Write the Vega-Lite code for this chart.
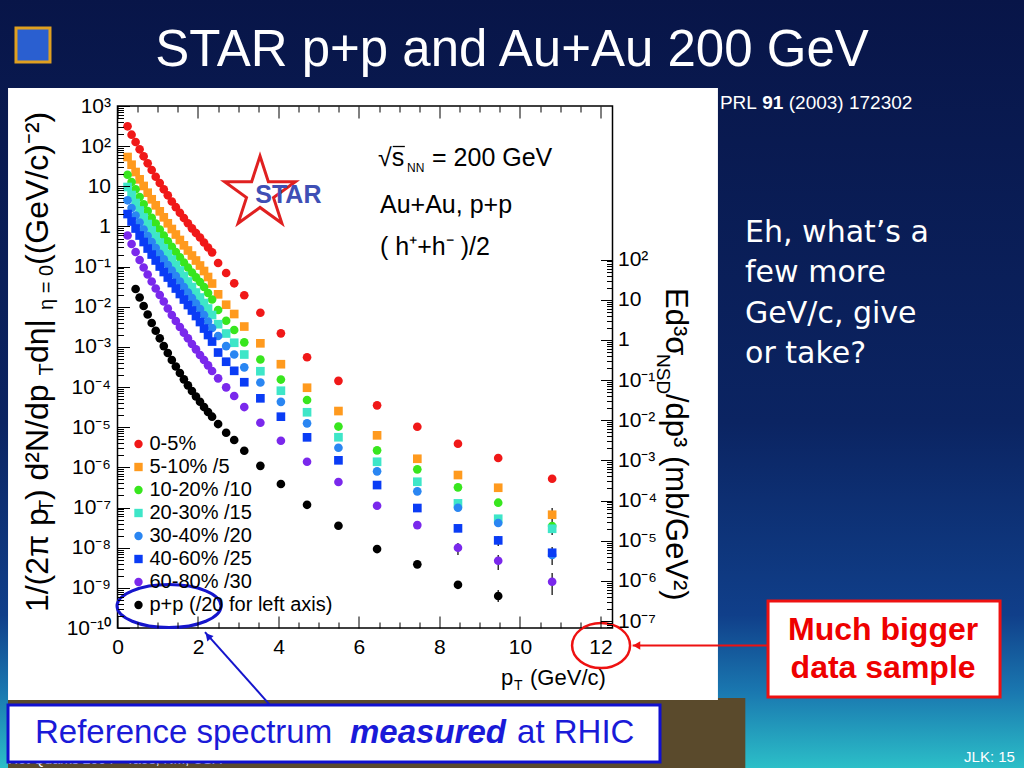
{
"$schema": "https://vega.github.io/schema/vega-lite/v6.json",
"width": 495, "height": 522,
"autosize": {"type": "none"},
"padding": {"left": 117.5, "top": 106, "right": 411.5, "bottom": 140},
"background": "#0a1a52",
"config": {
  "view": {"stroke": null},
  "axis": {"grid": false, "domain": false, "tickColor": "#000000", "tickWidth": 1, "labelColor": "#000000", "labelFont": "Liberation Sans", "labelFontSize": 21, "labelFlush": false, "labelOverlap": false, "labelBound": false},
  "text": {"font": "Liberation Sans"}
},
"data": {"values": [{}]},
"datasets": {
"spectra": [
{"s":"0-5%","pt":0.25,"v":312},{"s":"0-5%","pt":0.35,"v":193},{"s":"0-5%","pt":0.45,"v":127},{"s":"0-5%","pt":0.55,"v":83.5},{"s":"0-5%","pt":0.65,"v":55.9},{"s":"0-5%","pt":0.75,"v":37.4},{"s":"0-5%","pt":0.85,"v":25.5},{"s":"0-5%","pt":0.95,"v":17.3},{"s":"0-5%","pt":1.05,"v":12.1},{"s":"0-5%","pt":1.15,"v":8.42},{"s":"0-5%","pt":1.25,"v":5.97},{"s":"0-5%","pt":1.35,"v":4.18},{"s":"0-5%","pt":1.45,"v":3.02},{"s":"0-5%","pt":1.55,"v":2.2},{"s":"0-5%","pt":1.65,"v":1.62},{"s":"0-5%","pt":1.75,"v":1.2},{"s":"0-5%","pt":1.85,"v":0.899},{"s":"0-5%","pt":1.95,"v":0.687},{"s":"0-5%","pt":2.05,"v":0.531},{"s":"0-5%","pt":2.15,"v":0.398},{"s":"0-5%","pt":2.25,"v":0.299},{"s":"0-5%","pt":2.35,"v":0.227},{"s":"0-5%","pt":2.5,"v":0.123},{"s":"0-5%","pt":2.7,"v":0.0693},{"s":"0-5%","pt":2.9,"v":0.0384},{"s":"0-5%","pt":3.15,"v":0.0194},{"s":"0-5%","pt":3.55,"v":0.00711},{"s":"0-5%","pt":4.06,"v":0.00218},{"s":"0-5%","pt":4.71,"v":0.000554},{"s":"0-5%","pt":5.49,"v":0.000143},{"s":"0-5%","pt":6.45,"v":3.51e-5},{"s":"0-5%","pt":7.45,"v":1.03e-5},{"s":"0-5%","pt":8.46,"v":3.88e-6},{"s":"0-5%","pt":9.46,"v":1.71e-6},{"s":"0-5%","pt":10.8,"v":5.22e-7},
{"s":"5-10% /5","pt":0.25,"v":53.7},{"s":"5-10% /5","pt":0.35,"v":34.5},{"s":"5-10% /5","pt":0.45,"v":22.7},{"s":"5-10% /5","pt":0.55,"v":14.9},{"s":"5-10% /5","pt":0.65,"v":10.2},{"s":"5-10% /5","pt":0.75,"v":6.93},{"s":"5-10% /5","pt":0.85,"v":4.75},{"s":"5-10% /5","pt":0.95,"v":3.36},{"s":"5-10% /5","pt":1.05,"v":2.38},{"s":"5-10% /5","pt":1.15,"v":1.69},{"s":"5-10% /5","pt":1.25,"v":1.2},{"s":"5-10% /5","pt":1.35,"v":0.864},{"s":"5-10% /5","pt":1.45,"v":0.63},{"s":"5-10% /5","pt":1.55,"v":0.46},{"s":"5-10% /5","pt":1.65,"v":0.339},{"s":"5-10% /5","pt":1.75,"v":0.252},{"s":"5-10% /5","pt":1.85,"v":0.189},{"s":"5-10% /5","pt":1.95,"v":0.142},{"s":"5-10% /5","pt":2.05,"v":0.1065},{"s":"5-10% /5","pt":2.15,"v":0.0777},{"s":"5-10% /5","pt":2.25,"v":0.0551},{"s":"5-10% /5","pt":2.35,"v":0.0379},{"s":"5-10% /5","pt":2.5,"v":0.0204},{"s":"5-10% /5","pt":2.7,"v":0.01125},{"s":"5-10% /5","pt":2.9,"v":0.0066},{"s":"5-10% /5","pt":3.15,"v":0.00322},{"s":"5-10% /5","pt":3.55,"v":0.00123},{"s":"5-10% /5","pt":4.06,"v":0.000371},{"s":"5-10% /5","pt":4.71,"v":9.63e-5},{"s":"5-10% /5","pt":5.49,"v":2.53e-5},{"s":"5-10% /5","pt":6.45,"v":6.28e-6},{"s":"5-10% /5","pt":7.45,"v":1.64e-6},{"s":"5-10% /5","pt":8.46,"v":6.45e-7},{"s":"5-10% /5","pt":9.46,"v":3.11e-7},{"s":"5-10% /5","pt":10.8,"v":6.62e-8},
{"s":"10-20% /10","pt":0.25,"v":19.45},{"s":"10-20% /10","pt":0.35,"v":12.8},{"s":"10-20% /10","pt":0.45,"v":8.42},{"s":"10-20% /10","pt":0.55,"v":5.41},{"s":"10-20% /10","pt":0.65,"v":3.56},{"s":"10-20% /10","pt":0.75,"v":2.43},{"s":"10-20% /10","pt":0.85,"v":1.65},{"s":"10-20% /10","pt":0.95,"v":1.18},{"s":"10-20% /10","pt":1.05,"v":0.839},{"s":"10-20% /10","pt":1.15,"v":0.595},{"s":"10-20% /10","pt":1.25,"v":0.427},{"s":"10-20% /10","pt":1.35,"v":0.313},{"s":"10-20% /10","pt":1.45,"v":0.231},{"s":"10-20% /10","pt":1.55,"v":0.1704},{"s":"10-20% /10","pt":1.65,"v":0.1265},{"s":"10-20% /10","pt":1.75,"v":0.095},{"s":"10-20% /10","pt":1.85,"v":0.0713},{"s":"10-20% /10","pt":1.95,"v":0.0541},{"s":"10-20% /10","pt":2.05,"v":0.0413},{"s":"10-20% /10","pt":2.15,"v":0.031},{"s":"10-20% /10","pt":2.25,"v":0.022},{"s":"10-20% /10","pt":2.35,"v":0.01516},{"s":"10-20% /10","pt":2.5,"v":0.0083},{"s":"10-20% /10","pt":2.7,"v":0.00449},{"s":"10-20% /10","pt":2.9,"v":0.00264},{"s":"10-20% /10","pt":3.15,"v":0.0013},{"s":"10-20% /10","pt":3.55,"v":0.000486},{"s":"10-20% /10","pt":4.06,"v":0.000154},{"s":"10-20% /10","pt":4.71,"v":4.76e-5},{"s":"10-20% /10","pt":5.49,"v":1.04e-5},{"s":"10-20% /10","pt":6.45,"v":2.66e-6},{"s":"10-20% /10","pt":7.45,"v":8.94e-7},{"s":"10-20% /10","pt":8.46,"v":3.18e-7},{"s":"10-20% /10","pt":9.46,"v":1.32e-7},{"s":"10-20% /10","pt":10.8,"v":3.46e-8},
{"s":"20-30% /15","pt":0.25,"v":9.61},{"s":"20-30% /15","pt":0.35,"v":6.07},{"s":"20-30% /15","pt":0.45,"v":3.84},{"s":"20-30% /15","pt":0.55,"v":2.5},{"s":"20-30% /15","pt":0.65,"v":1.67},{"s":"20-30% /15","pt":0.75,"v":1.15},{"s":"20-30% /15","pt":0.85,"v":0.793},{"s":"20-30% /15","pt":0.95,"v":0.562},{"s":"20-30% /15","pt":1.05,"v":0.398},{"s":"20-30% /15","pt":1.15,"v":0.286},{"s":"20-30% /15","pt":1.25,"v":0.206},{"s":"20-30% /15","pt":1.35,"v":0.15},{"s":"20-30% /15","pt":1.45,"v":0.1096},{"s":"20-30% /15","pt":1.55,"v":0.08},{"s":"20-30% /15","pt":1.65,"v":0.0583},{"s":"20-30% /15","pt":1.75,"v":0.0425},{"s":"20-30% /15","pt":1.85,"v":0.031},{"s":"20-30% /15","pt":1.95,"v":0.02264},{"s":"20-30% /15","pt":2.05,"v":0.017},{"s":"20-30% /15","pt":2.15,"v":0.0124},{"s":"20-30% /15","pt":2.25,"v":0.00904},{"s":"20-30% /15","pt":2.35,"v":0.00623},{"s":"20-30% /15","pt":2.5,"v":0.00368},{"s":"20-30% /15","pt":2.7,"v":0.00216},{"s":"20-30% /15","pt":2.9,"v":0.00127},{"s":"20-30% /15","pt":3.15,"v":0.000647},{"s":"20-30% /15","pt":3.55,"v":0.000248},{"s":"20-30% /15","pt":4.06,"v":8.11e-5},{"s":"20-30% /15","pt":4.71,"v":2.36e-5},{"s":"20-30% /15","pt":5.49,"v":5.63e-6},{"s":"20-30% /15","pt":6.45,"v":1.38e-6},{"s":"20-30% /15","pt":7.45,"v":4.39e-7},{"s":"20-30% /15","pt":8.46,"v":1.27e-7},{"s":"20-30% /15","pt":9.46,"v":5.26e-8},{"s":"20-30% /15","pt":10.8,"v":2.96e-8},
{"s":"30-40% /20","pt":0.25,"v":4.48},{"s":"30-40% /20","pt":0.35,"v":2.88},{"s":"30-40% /20","pt":0.45,"v":1.87},{"s":"30-40% /20","pt":0.55,"v":1.25},{"s":"30-40% /20","pt":0.65,"v":0.839},{"s":"30-40% /20","pt":0.75,"v":0.578},{"s":"30-40% /20","pt":0.85,"v":0.41},{"s":"30-40% /20","pt":0.95,"v":0.291},{"s":"30-40% /20","pt":1.05,"v":0.2096},{"s":"30-40% /20","pt":1.15,"v":0.152},{"s":"30-40% /20","pt":1.25,"v":0.1096},{"s":"30-40% /20","pt":1.35,"v":0.08},{"s":"30-40% /20","pt":1.45,"v":0.0583},{"s":"30-40% /20","pt":1.55,"v":0.0425},{"s":"30-40% /20","pt":1.65,"v":0.031},{"s":"30-40% /20","pt":1.75,"v":0.02264},{"s":"30-40% /20","pt":1.85,"v":0.0165},{"s":"30-40% /20","pt":1.95,"v":0.01205},{"s":"30-40% /20","pt":2.05,"v":0.00879},{"s":"30-40% /20","pt":2.15,"v":0.00623},{"s":"30-40% /20","pt":2.25,"v":0.00429},{"s":"30-40% /20","pt":2.35,"v":0.00296},{"s":"30-40% /20","pt":2.5,"v":0.00187},{"s":"30-40% /20","pt":2.7,"v":0.00105},{"s":"30-40% /20","pt":2.9,"v":0.000647},{"s":"30-40% /20","pt":3.15,"v":0.00031},{"s":"30-40% /20","pt":3.55,"v":0.00013},{"s":"30-40% /20","pt":4.06,"v":4.29e-5},{"s":"30-40% /20","pt":4.71,"v":1.25e-5},{"s":"30-40% /20","pt":5.49,"v":3.09e-6},{"s":"30-40% /20","pt":6.45,"v":7.97e-7},{"s":"30-40% /20","pt":7.45,"v":2.53e-7},{"s":"30-40% /20","pt":8.46,"v":9.89e-8},{"s":"30-40% /20","pt":9.46,"v":4.11e-8},{"s":"30-40% /20","pt":10.8,"v":6.56e-9},
{"s":"40-60% /25","pt":0.25,"v":2.04},{"s":"40-60% /25","pt":0.35,"v":1.33},{"s":"40-60% /25","pt":0.45,"v":0.889},{"s":"40-60% /25","pt":0.55,"v":0.595},{"s":"40-60% /25","pt":0.65,"v":0.41},{"s":"40-60% /25","pt":0.75,"v":0.282},{"s":"40-60% /25","pt":0.85,"v":0.2},{"s":"40-60% /25","pt":0.95,"v":0.142},{"s":"40-60% /25","pt":1.05,"v":0.1006},{"s":"40-60% /25","pt":1.15,"v":0.0734},{"s":"40-60% /25","pt":1.25,"v":0.0535},{"s":"40-60% /25","pt":1.35,"v":0.039},{"s":"40-60% /25","pt":1.45,"v":0.0285},{"s":"40-60% /25","pt":1.55,"v":0.0208},{"s":"40-60% /25","pt":1.65,"v":0.01516},{"s":"40-60% /25","pt":1.75,"v":0.01105},{"s":"40-60% /25","pt":1.85,"v":0.00807},{"s":"40-60% /25","pt":1.95,"v":0.00588},{"s":"40-60% /25","pt":2.05,"v":0.00417},{"s":"40-60% /25","pt":2.15,"v":0.00287},{"s":"40-60% /25","pt":2.25,"v":0.00198},{"s":"40-60% /25","pt":2.35,"v":0.00136},{"s":"40-60% /25","pt":2.5,"v":0.000725},{"s":"40-60% /25","pt":2.7,"v":0.000428},{"s":"40-60% /25","pt":2.9,"v":0.000254},{"s":"40-60% /25","pt":3.15,"v":0.000132},{"s":"40-60% /25","pt":3.55,"v":5.25e-5},{"s":"40-60% /25","pt":4.06,"v":1.83e-5},{"s":"40-60% /25","pt":4.71,"v":5.6e-6},{"s":"40-60% /25","pt":5.49,"v":1.5e-6},{"s":"40-60% /25","pt":6.45,"v":3.63e-7},{"s":"40-60% /25","pt":7.45,"v":9.72e-8},{"s":"40-60% /25","pt":8.46,"v":3.03e-8},{"s":"40-60% /25","pt":9.46,"v":1.52e-8},{"s":"40-60% /25","pt":10.8,"v":7.48e-9},
{"s":"60-80% /30","pt":0.25,"v":0.595},{"s":"60-80% /30","pt":0.35,"v":0.366},{"s":"60-80% /30","pt":0.45,"v":0.231},{"s":"60-80% /30","pt":0.55,"v":0.146},{"s":"60-80% /30","pt":0.65,"v":0.095},{"s":"60-80% /30","pt":0.75,"v":0.0636},{"s":"60-80% /30","pt":0.85,"v":0.0425},{"s":"60-80% /30","pt":0.95,"v":0.0285},{"s":"60-80% /30","pt":1.05,"v":0.0196},{"s":"60-80% /30","pt":1.15,"v":0.0135},{"s":"60-80% /30","pt":1.25,"v":0.00904},{"s":"60-80% /30","pt":1.35,"v":0.00623},{"s":"60-80% /30","pt":1.45,"v":0.00442},{"s":"60-80% /30","pt":1.55,"v":0.00313},{"s":"60-80% /30","pt":1.65,"v":0.00226},{"s":"60-80% /30","pt":1.75,"v":0.00164},{"s":"60-80% /30","pt":1.85,"v":0.00118},{"s":"60-80% /30","pt":1.95,"v":0.000871},{"s":"60-80% /30","pt":2.05,"v":0.000628},{"s":"60-80% /30","pt":2.15,"v":0.000472},{"s":"60-80% /30","pt":2.25,"v":0.000348},{"s":"60-80% /30","pt":2.35,"v":0.000251},{"s":"60-80% /30","pt":2.5,"v":0.000165},{"s":"60-80% /30","pt":2.7,"v":9.86e-5},{"s":"60-80% /30","pt":2.9,"v":5.98e-5},{"s":"60-80% /30","pt":3.15,"v":3.18e-5},{"s":"60-80% /30","pt":3.55,"v":1.29e-5},{"s":"60-80% /30","pt":4.06,"v":4.61e-6},{"s":"60-80% /30","pt":4.71,"v":1.38e-6},{"s":"60-80% /30","pt":5.49,"v":4.32e-7},{"s":"60-80% /30","pt":6.45,"v":1.11e-7},{"s":"60-80% /30","pt":7.45,"v":3.66e-8},{"s":"60-80% /30","pt":8.46,"v":9.97e-9},{"s":"60-80% /30","pt":9.46,"v":4.73e-9},{"s":"60-80% /30","pt":10.8,"v":1.42e-9},
{"s":"p+p (/20 for left axis)","pt":0.45,"v":0.0277},{"s":"p+p (/20 for left axis)","pt":0.55,"v":0.017},{"s":"p+p (/20 for left axis)","pt":0.65,"v":0.01044},{"s":"p+p (/20 for left axis)","pt":0.75,"v":0.00641},{"s":"p+p (/20 for left axis)","pt":0.85,"v":0.00394},{"s":"p+p (/20 for left axis)","pt":0.95,"v":0.00253},{"s":"p+p (/20 for left axis)","pt":1.05,"v":0.00164},{"s":"p+p (/20 for left axis)","pt":1.15,"v":0.00105},{"s":"p+p (/20 for left axis)","pt":1.25,"v":0.000705},{"s":"p+p (/20 for left axis)","pt":1.35,"v":0.000472},{"s":"p+p (/20 for left axis)","pt":1.45,"v":0.000325},{"s":"p+p (/20 for left axis)","pt":1.55,"v":0.000224},{"s":"p+p (/20 for left axis)","pt":1.65,"v":0.000156},{"s":"p+p (/20 for left axis)","pt":1.75,"v":0.0001105},{"s":"p+p (/20 for left axis)","pt":1.85,"v":7.97e-5},{"s":"p+p (/20 for left axis)","pt":1.95,"v":5.82e-5},{"s":"p+p (/20 for left axis)","pt":2.05,"v":4.32e-5},{"s":"p+p (/20 for left axis)","pt":2.15,"v":3.18e-5},{"s":"p+p (/20 for left axis)","pt":2.25,"v":2.39e-5},{"s":"p+p (/20 for left axis)","pt":2.35,"v":1.83e-5},{"s":"p+p (/20 for left axis)","pt":2.5,"v":1.2e-5},{"s":"p+p (/20 for left axis)","pt":2.7,"v":7.29e-6},{"s":"p+p (/20 for left axis)","pt":2.9,"v":4.8e-6},{"s":"p+p (/20 for left axis)","pt":3.15,"v":2.6e-6},{"s":"p+p (/20 for left axis)","pt":3.55,"v":1.093e-6},{"s":"p+p (/20 for left axis)","pt":4.06,"v":3.85e-7},{"s":"p+p (/20 for left axis)","pt":4.71,"v":1.17e-7},{"s":"p+p (/20 for left axis)","pt":5.49,"v":3.52e-8},{"s":"p+p (/20 for left axis)","pt":6.45,"v":9.25e-9},{"s":"p+p (/20 for left axis)","pt":7.45,"v":3.85e-9},{"s":"p+p (/20 for left axis)","pt":8.46,"v":1.19e-9},{"s":"p+p (/20 for left axis)","pt":9.46,"v":6.25e-10}
],
"errs": [
{"s":"60-80% /30","pt":8.46,"lo":6.6e-9,"hi":1.31e-8},
{"s":"60-80% /30","pt":9.46,"lo":2.77e-9,"hi":6.56e-9},
{"s":"60-80% /30","pt":10.8,"lo":6.62e-10,"hi":2.34e-9},
{"s":"30-40% /20","pt":10.8,"lo":3.7e-9,"hi":1.04e-8},
{"s":"5-10% /5","pt":10.8,"lo":4.36e-8,"hi":9.72e-8},
{"s":"20-30% /15","pt":10.8,"lo":2.07e-8,"hi":4.36e-8},
{"s":"p+p (/20 for left axis)","pt":9.46,"lo":4.43e-10,"hi":8.81e-10},
{"s":"40-60% /25","pt":9.46,"lo":1.1e-8,"hi":1.95e-8}
]
},
"layer": [
{
"layer": [
{"mark": {"type": "rect", "fill": {"gradient": "linear", "x1": 0, "y1": 0, "x2": 0, "y2": 1, "stops": [{"offset": 0, "color": "#081548"}, {"offset": 0.55, "color": "#0b2462"}, {"offset": 0.8, "color": "#103f8a"}, {"offset": 0.9, "color": "#1a78b0"}, {"offset": 1, "color": "#2cc0c8"}]}},
 "encoding": {"x": {"datum": -3.2, "type": "quantitative", "axis": null}, "x2": {"datum": 22.8}, "y": {"datum": 500000, "type": "quantitative", "axis": null}, "y2": {"datum": 3e-14}}},
{"mark": {"type": "rect", "fill": "#5a4a2c"},
 "encoding": {"x": {"datum": -2.72, "type": "quantitative", "axis": null}, "x2": {"datum": 15.6}, "y": {"datum": 1.81e-12, "type": "quantitative", "axis": null}, "y2": {"datum": 3e-14}}},
{"mark": {"type": "point", "shape": "square", "size": 1156, "filled": true, "fill": "#2a5fd0", "stroke": "#e0a020", "strokeWidth": 3, "opacity": 1},
 "encoding": {"x": {"datum": -2.1, "type": "quantitative", "axis": null}, "y": {"datum": 33000, "type": "quantitative", "axis": null}}},
{"mark": {"type": "text", "text": "Hot Quarks 2004 - Taos, NM, USA", "fontSize": 14, "color": "#ffffff", "align": "left", "baseline": "middle"},
 "encoding": {"x": {"datum": -2.72, "axis": null}, "y": {"datum": 5.14e-14, "axis": null}}},
{"mark": {"type": "rect", "fill": "#ffffff"},
 "encoding": {"x": {"datum": -2.72, "type": "quantitative", "axis": null}, "x2": {"datum": 14.92}, "y": {"datum": 2807, "type": "quantitative", "axis": null}, "y2": {"datum": 1.6e-12}}},
{"mark": {"type": "rect", "fill": "#ffffff", "fillOpacity": 0, "stroke": "#000000", "strokeWidth": 1.5},
 "encoding": {"x": {"datum": 0, "type": "quantitative", "axis": null}, "x2": {"datum": 12.3}, "y": {"datum": 1e-10, "type": "quantitative", "axis": null}, "y2": {"datum": 1000}}},
{"data": {"name": "errs"}, "mark": {"type": "rule", "color": "#000000", "strokeWidth": 1.2},
 "encoding": {"x": {"field": "pt", "type": "quantitative", "axis": null}, "y": {"field": "lo", "type": "quantitative", "axis": null}, "y2": {"field": "hi"}}},
{"data": {"name": "spectra"}, "mark": {"type": "point", "filled": true, "size": 75, "opacity": 1},
 "encoding": {
  "x": {"field": "pt", "type": "quantitative", "scale": {"domain": [0, 12.3], "nice": false, "zero": false}, "axis": {"orient": "bottom", "zindex": 2, "values": [0, 2, 4, 6, 8, 10, 12], "tickSize": -12, "labelPadding": 20, "title": null}},
  "y": {"field": "v", "type": "quantitative", "scale": {"type": "log", "domain": [1e-10, 1000], "nice": false}, "axis": {"orient": "left", "zindex": 2, "values": [1e-10, 1e-9, 1e-8, 1e-7, 1e-6, 1e-5, 1e-4, 1e-3, 0.01, 0.1, 1, 10, 100, 1000], "tickSize": -12, "labelPadding": 19, "title": null,
     "labelExpr": "round(log(datum.value)/LN10) == 0 ? '1' : round(log(datum.value)/LN10) == 1 ? '10' : '10' + replace(replace(replace(replace(replace(replace(replace(replace(replace(replace(replace(toString(round(log(datum.value)/LN10)),'-','⁻'),'0','⁰'),'1','¹'),'2','²'),'3','³'),'4','⁴'),'5','⁵'),'6','⁶'),'7','⁷'),'8','⁸'),'9','⁹')"}},
  "color": {"field": "s", "type": "nominal", "scale": {"domain": ["0-5%", "5-10% /5", "10-20% /10", "20-30% /15", "30-40% /20", "40-60% /25", "60-80% /30", "p+p (/20 for left axis)"], "range": ["#f01818", "#ff9a1e", "#38e61e", "#3ee6c8", "#2a86f2", "#0a3cf5", "#7a28ec", "#000000"]},
    "legend": {"orient": "none", "legendX": 11, "legendY": 328, "title": null, "padding": 0, "labelFont": "Liberation Sans", "labelFontSize": 20, "labelColor": "#000000", "labelOffset": 1, "rowPadding": 3, "symbolSize": 70, "symbolStrokeWidth": 0, "labelLimit": 400}},
  "shape": {"field": "s", "type": "nominal", "scale": {"domain": ["0-5%", "5-10% /5", "10-20% /10", "20-30% /15", "30-40% /20", "40-60% /25", "60-80% /30", "p+p (/20 for left axis)"], "range": ["circle", "square", "circle", "square", "circle", "square", "circle", "circle"]},
    "legend": {"orient": "none", "legendX": 11, "legendY": 328, "title": null, "padding": 0, "labelFont": "Liberation Sans", "labelFontSize": 20, "labelColor": "#000000", "labelOffset": 1, "rowPadding": 3, "symbolSize": 70, "symbolStrokeWidth": 0, "labelLimit": 400}}
 }},
{"mark": {"type": "point", "opacity": 0},
 "encoding": {"x": {"datum": 1, "type": "quantitative", "axis": {"orient": "bottom", "zindex": 2, "values": [0.5, 1, 1.5, 2.5, 3, 3.5, 4.5, 5, 5.5, 6.5, 7, 7.5, 8.5, 9, 9.5, 10.5, 11, 11.5], "tickSize": -6, "labels": false, "title": null}}}},
{"mark": {"type": "point", "opacity": 0},
 "encoding": {"x": {"datum": 1, "type": "quantitative", "axis": {"orient": "top", "zindex": 2, "values": [0, 2, 4, 6, 8, 10, 12], "tickSize": -12, "labels": false, "title": null}}}},
{"mark": {"type": "point", "opacity": 0},
 "encoding": {"x": {"datum": 1, "type": "quantitative", "axis": {"orient": "top", "zindex": 2, "values": [0.5, 1, 1.5, 2.5, 3, 3.5, 4.5, 5, 5.5, 6.5, 7, 7.5, 8.5, 9, 9.5, 10.5, 11, 11.5], "tickSize": -6, "labels": false, "title": null}}}},
{"mark": {"type": "point", "opacity": 0},
 "encoding": {"y": {"datum": 1, "type": "quantitative", "axis": {"orient": "left", "zindex": 2, "values": [2e-10,3e-10,4e-10,5e-10,6e-10,7e-10,8e-10,9e-10,2e-9,3e-9,4e-9,5e-9,6e-9,7e-9,8e-9,9e-9,2e-8,3e-8,4e-8,5e-8,6e-8,7e-8,8e-8,9e-8,2e-7,3e-7,4e-7,5e-7,6e-7,7e-7,8e-7,9e-7,2e-6,3e-6,4e-6,5e-6,6e-6,7e-6,8e-6,9e-6,2e-5,3e-5,4e-5,5e-5,6e-5,7e-5,8e-5,9e-5,2e-4,3e-4,4e-4,5e-4,6e-4,7e-4,8e-4,9e-4,0.002,0.003,0.004,0.005,0.006,0.007,0.008,0.009,0.02,0.03,0.04,0.05,0.06,0.07,0.08,0.09,0.2,0.3,0.4,0.5,0.6,0.7,0.8,0.9,2,3,4,5,6,7,8,9,20,30,40,50,60,70,80,90,200,300,400,500,600,700,800,900], "tickSize": -6, "labels": false, "title": null}}}},
{"mark": {"type": "text", "text": "√s", "fontSize": 25, "color": "#000000", "align": "left", "baseline": "middle"},
 "encoding": {"x": {"datum": 6.474, "axis": null}, "y": {"datum": 50.7, "axis": null}}},
{"mark": {"type": "rule", "color": "#000000", "strokeWidth": 1.3},
 "encoding": {"x": {"datum": 6.84, "axis": null}, "x2": {"datum": 7.14}, "y": {"datum": 98, "axis": null}}},
{"mark": {"type": "text", "text": "NN", "fontSize": 12, "color": "#000000", "align": "left", "baseline": "middle"},
 "encoding": {"x": {"datum": 7.194, "axis": null}, "y": {"datum": 28.6, "axis": null}}},
{"mark": {"type": "text", "text": "= 200 GeV", "fontSize": 25, "color": "#000000", "align": "left", "baseline": "middle"},
 "encoding": {"x": {"datum": 7.816, "axis": null}, "y": {"datum": 50.7, "axis": null}}},
{"mark": {"type": "text", "text": "Au+Au, p+p", "fontSize": 25, "color": "#000000", "align": "left", "baseline": "middle"},
 "encoding": {"x": {"datum": 6.523, "axis": null}, "y": {"datum": 3.42, "axis": null}}},
{"mark": {"type": "text", "text": "( h⁺+h⁻ )/2", "fontSize": 25, "color": "#000000", "align": "left", "baseline": "middle"},
 "encoding": {"x": {"datum": 6.523, "axis": null}, "y": {"datum": 0.308, "axis": null}}},
{"mark": {"type": "point", "shape": "M0,-1L0.2245,-0.309L0.951,-0.309L0.363,0.118L0.588,0.809L0,0.382L-0.588,0.809L-0.363,0.118L-0.951,-0.309L-0.2245,-0.309Z", "size": 5535, "filled": false, "stroke": "#e02020", "strokeWidth": 3, "opacity": 1},
 "encoding": {"x": {"datum": 3.541, "axis": null}, "y": {"datum": 6.73, "axis": null}}},
{"mark": {"type": "text", "text": "STAR", "fontSize": 25, "fontWeight": "bold", "color": "#3f4fb5", "align": "center", "baseline": "middle"},
 "encoding": {"x": {"datum": 4.245, "axis": null}, "y": {"datum": 6.08, "axis": null}}},
{"mark": {"type": "text", "text": "p", "fontSize": 22, "color": "#000000", "align": "left", "baseline": "middle"},
 "encoding": {"x": {"datum": 9.53, "axis": null}, "y": {"datum": 5.66e-12, "axis": null}}},
{"mark": {"type": "text", "text": "T", "fontSize": 14, "color": "#000000", "align": "left", "baseline": "middle"},
 "encoding": {"x": {"datum": 9.853, "axis": null}, "y": {"datum": 3.58e-12, "axis": null}}},
{"mark": {"type": "text", "text": "(GeV/c)", "fontSize": 22, "color": "#000000", "align": "left", "baseline": "middle"},
 "encoding": {"x": {"datum": 10.251, "axis": null}, "y": {"datum": 5.66e-12, "axis": null}}},
{"mark": {"type": "text", "text": "1/(2π p", "fontSize": 32, "angle": 270, "color": "#000000", "align": "left", "baseline": "middle"},
 "encoding": {"x": {"datum": -1.976, "axis": null}, "y": {"datum": 2.49e-10, "axis": null}}},
{"mark": {"type": "text", "text": "T", "fontSize": 20, "angle": 270, "color": "#000000", "align": "left", "baseline": "middle"},
 "encoding": {"x": {"datum": -1.752, "axis": null}, "y": {"datum": 7.73e-8, "axis": null}}},
{"mark": {"type": "text", "text": ")  d²N/dp", "fontSize": 32, "angle": 270, "color": "#000000", "align": "left", "baseline": "middle"},
 "encoding": {"x": {"datum": -1.976, "axis": null}, "y": {"datum": 1.54e-7, "axis": null}}},
{"mark": {"type": "text", "text": "T", "fontSize": 20, "angle": 270, "color": "#000000", "align": "left", "baseline": "middle"},
 "encoding": {"x": {"datum": -1.752, "axis": null}, "y": {"datum": 1.94e-4, "axis": null}}},
{"mark": {"type": "text", "text": " dη|", "fontSize": 32, "angle": 270, "color": "#000000", "align": "left", "baseline": "middle"},
 "encoding": {"x": {"datum": -1.976, "axis": null}, "y": {"datum": 3.97e-4, "axis": null}}},
{"mark": {"type": "text", "text": "η = 0", "fontSize": 20, "angle": 270, "color": "#000000", "align": "left", "baseline": "middle"},
 "encoding": {"x": {"datum": -1.752, "axis": null}, "y": {"datum": 0.0083, "axis": null}}},
{"mark": {"type": "text", "text": " ((GeV/c)⁻²)", "fontSize": 32, "angle": 270, "color": "#000000", "align": "left", "baseline": "middle"},
 "encoding": {"x": {"datum": -1.976, "axis": null}, "y": {"datum": 0.11, "axis": null}}},
{"mark": {"type": "text", "text": "Ed³σ", "fontSize": 31, "angle": 90, "color": "#000000", "align": "left", "baseline": "middle"},
 "encoding": {"x": {"datum": 13.854, "axis": null}, "y": {"datum": 0.0293, "axis": null}}},
{"mark": {"type": "text", "text": "NSD", "fontSize": 19, "angle": 90, "color": "#000000", "align": "left", "baseline": "middle"},
 "encoding": {"x": {"datum": 13.56, "axis": null}, "y": {"datum": 6.67e-4, "axis": null}}},
{"mark": {"type": "text", "text": "/dp³ (mb/GeV²)", "fontSize": 31, "angle": 90, "color": "#000000", "align": "left", "baseline": "middle"},
 "encoding": {"x": {"datum": 13.854, "axis": null}, "y": {"datum": 6.73e-5, "axis": null}}},
{"mark": {"type": "point", "shape": "M-1,0A1,0.413,0,1,1,1,0A1,0.413,0,1,1,-1,0Z", "size": 10816, "filled": false, "stroke": "#1515cc", "strokeWidth": 3, "opacity": 1},
 "encoding": {"x": {"datum": 1.28, "axis": null}, "y": {"datum": 3.52e-10, "axis": null}}},
{"mark": {"type": "point", "shape": "M-1,0A1,0.776,0,1,1,1,0A1,0.776,0,1,1,-1,0Z", "size": 3364, "filled": false, "stroke": "#ee1111", "strokeWidth": 2.5, "opacity": 1},
 "encoding": {"x": {"datum": 12.016, "axis": null}, "y": {"datum": 3.66e-11, "axis": null}}},
{"mark": {"type": "rule", "color": "#ee1111", "strokeWidth": 2},
 "encoding": {"x": {"datum": 12.8, "axis": null}, "x2": {"datum": 16.165}, "y": {"datum": 3.66e-11, "axis": null}}},
{"mark": {"type": "point", "shape": "triangle-left", "size": 70, "filled": true, "color": "#ee1111", "opacity": 1},
 "encoding": {"x": {"datum": 12.9, "axis": null}, "y": {"datum": 3.66e-11, "axis": null}}},
{"mark": {"type": "rule", "color": "#1515cc", "strokeWidth": 2},
 "encoding": {"x": {"datum": 2.174, "axis": null}, "x2": {"datum": 3.79}, "y": {"datum": 7.92e-11, "axis": null}, "y2": {"datum": 1.205e-12}}},
{"mark": {"type": "point", "shape": "triangle-up", "size": 70, "filled": true, "color": "#1515cc", "opacity": 1, "angle": 318},
 "encoding": {"x": {"datum": 2.249, "axis": null}, "y": {"datum": 6.3e-11, "axis": null}}},
{"mark": {"type": "rect", "fill": "#ffffff", "stroke": "#ee1111", "strokeWidth": 3},
 "encoding": {"x": {"datum": 16.165, "type": "quantitative", "axis": null}, "x2": {"datum": 21.93}, "y": {"datum": 4.69e-10, "type": "quantitative", "axis": null}, "y2": {"datum": 1.91e-12}}},
{"mark": {"type": "text", "text": ["Much bigger", "data sample"], "fontSize": 32, "fontWeight": "bold", "lineHeight": 38, "color": "#ee0000", "align": "center", "baseline": "middle"},
 "encoding": {"x": {"datum": 19.024, "axis": null}, "y": {"datum": 8.91e-11, "axis": null}}},
{"mark": {"type": "rect", "fill": "#ffffff", "stroke": "#1010d0", "strokeWidth": 3},
 "encoding": {"x": {"datum": -2.72, "type": "quantitative", "axis": null}, "x2": {"datum": 13.48}, "y": {"datum": 1.205e-12, "type": "quantitative", "axis": null}, "y2": {"datum": 4.58e-14}}},
{"mark": {"type": "text", "text": "Reference spectrum", "fontSize": 33, "color": "#1a1ad8", "align": "left", "baseline": "middle"},
 "encoding": {"x": {"datum": -2.05, "axis": null}, "y": {"datum": 2.42e-13, "axis": null}}},
{"mark": {"type": "text", "text": "measured", "fontSize": 33, "fontWeight": "bold", "fontStyle": "italic", "color": "#1a1ad8", "align": "left", "baseline": "middle"},
 "encoding": {"x": {"datum": 5.778, "axis": null}, "y": {"datum": 2.42e-13, "axis": null}}},
{"mark": {"type": "text", "text": "at RHIC", "fontSize": 33, "color": "#1a1ad8", "align": "left", "baseline": "middle"},
 "encoding": {"x": {"datum": 9.928, "axis": null}, "y": {"datum": 2.42e-13, "axis": null}}},
{"mark": {"type": "text", "text": "JLK: 15", "fontSize": 15, "color": "#ffffff", "align": "right", "baseline": "middle"},
 "encoding": {"x": {"datum": 22.3, "axis": null}, "y": {"datum": 6.11e-14, "axis": null}}},
{"mark": {"type": "text", "text": "STAR p+p and Au+Au 200 GeV", "fontSize": 51, "color": "#ffffff", "align": "center", "baseline": "alphabetic"},
 "encoding": {"x": {"datum": 9.804, "axis": null}, "y": {"datum": 9910, "axis": null}}},
{"mark": {"type": "text", "text": "PRL", "fontSize": 19, "color": "#ffffff", "align": "left", "baseline": "middle"},
 "encoding": {"x": {"datum": 14.97, "axis": null}, "y": {"datum": 1188, "axis": null}}},
{"mark": {"type": "text", "text": "91", "fontSize": 19, "fontWeight": "bold", "color": "#ffffff", "align": "left", "baseline": "middle"},
 "encoding": {"x": {"datum": 16.02, "axis": null}, "y": {"datum": 1188, "axis": null}}},
{"mark": {"type": "text", "text": "(2003) 172302", "fontSize": 19, "color": "#ffffff", "align": "left", "baseline": "middle"},
 "encoding": {"x": {"datum": 16.68, "axis": null}, "y": {"datum": 1188, "axis": null}}},
{"mark": {"type": "text", "text": ["Eh, what’s a", "few more", "GeV/c, give", "or take?"], "font": "DejaVu Sans", "fontSize": 30, "lineHeight": 40.3, "color": "#ffffff", "align": "left", "baseline": "middle"},
 "encoding": {"x": {"datum": 15.594, "axis": null}, "y": {"datum": 0.687, "axis": null}}}
],
"resolve": {"axis": {"x": "independent", "y": "independent"}}
},
{
"layer": [
{"mark": {"type": "point", "opacity": 0},
 "encoding": {"y": {"datum": 1, "type": "quantitative", "scale": {"type": "log", "domain": [6.7e-8, 670000], "nice": false},
   "axis": {"orient": "right", "zindex": 2, "values": [1e-7, 1e-6, 1e-5, 1e-4, 1e-3, 0.01, 0.1, 1, 10, 100], "tickSize": -12, "labelPadding": 17, "title": null,
     "labelExpr": "round(log(datum.value)/LN10) == 0 ? '1' : round(log(datum.value)/LN10) == 1 ? '10' : '10' + replace(replace(replace(replace(replace(replace(replace(replace(replace(replace(replace(toString(round(log(datum.value)/LN10)),'-','⁻'),'0','⁰'),'1','¹'),'2','²'),'3','³'),'4','⁴'),'5','⁵'),'6','⁶'),'7','⁷'),'8','⁸'),'9','⁹')"}}}},
{"mark": {"type": "point", "opacity": 0},
 "encoding": {"y": {"datum": 1, "type": "quantitative", "axis": {"orient": "right", "zindex": 2, "values": [7e-8,8e-8,9e-8,2e-7,3e-7,4e-7,5e-7,6e-7,7e-7,8e-7,9e-7,2e-6,3e-6,4e-6,5e-6,6e-6,7e-6,8e-6,9e-6,2e-5,3e-5,4e-5,5e-5,6e-5,7e-5,8e-5,9e-5,2e-4,3e-4,4e-4,5e-4,6e-4,7e-4,8e-4,9e-4,0.002,0.003,0.004,0.005,0.006,0.007,0.008,0.009,0.02,0.03,0.04,0.05,0.06,0.07,0.08,0.09,0.2,0.3,0.4,0.5,0.6,0.7,0.8,0.9,2,3,4,5,6,7,8,9,20,30,40,50,60,70,80,90], "tickSize": -6, "labels": false, "title": null}}}}
],
"resolve": {"axis": {"y": "independent"}}
}
],
"resolve": {"scale": {"y": "independent"}, "axis": {"y": "independent"}}
}
